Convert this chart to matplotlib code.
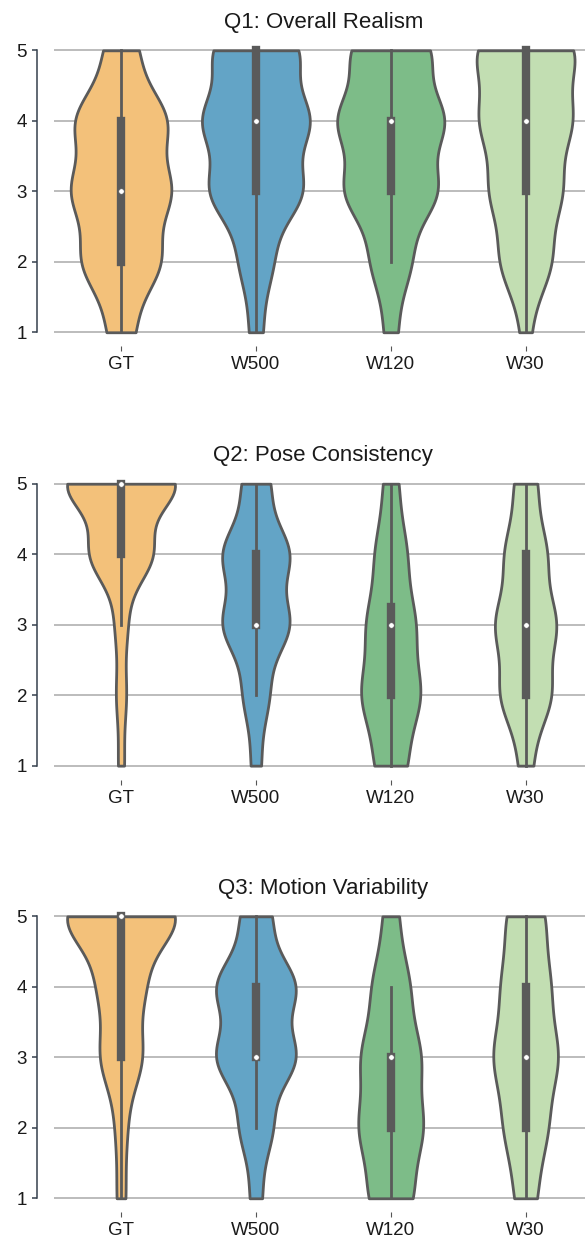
import numpy as np
import matplotlib
matplotlib.use("Agg")
import matplotlib.pyplot as plt
from matplotlib import mlab

plt.rcParams["font.family"] = ["Liberation Sans", "DejaVu Sans"]

categories = ["GT", "W500", "W120", "W30"]
scores = [1, 2, 3, 4, 5]
titles = ["Q1: Overall Realism", "Q2: Pose Consistency", "Q3: Motion Variability"]

# Number of responses for each score (1..5), one row per condition
q1_counts = [
    [8, 24, 30, 28, 10],    # GT
    [4, 10, 28, 32, 26],    # W500
    [4, 12, 28, 32, 24],    # W120
    [3, 16, 22, 28, 31],    # W30
]
q2_counts = [
    [3, 5, 6, 31, 55],
    [5, 13, 34, 34, 14],
    [17, 32, 26, 17, 8],
    [7, 27, 32, 22, 12],
]
q3_counts = [
    [4, 5, 19, 20, 52],
    [5, 14, 34, 34, 13],
    [20, 29, 27, 17, 7],
    [10, 20, 30, 22, 18],
]

palette = ["#F3C17A", "#63A4C6", "#7DBC88", "#C2DEB2"]
line_gray = "#5a5a5a"
spine_color = "#36404d"
lw = 2.0
max_width = 0.8

fig = plt.figure(figsize=(5.85, 12.45), dpi=100)
bottoms = [0.7218, 0.3737, 0.0262]

for counts, title, bottom in zip([q1_counts, q2_counts, q3_counts], titles, bottoms):
    ax = fig.add_axes([0.0916, bottom, 0.9221, 0.2491])
    data = [np.repeat(scores, c).astype(float) for c in counts]

    # area scaling: every violin shares the density scale of the axes
    peaks = []
    for d in data:
        kde = mlab.GaussianKDE(d, "scott")
        grid = np.linspace(d.min(), d.max(), 100)
        peaks.append(kde.evaluate(grid).max())
    widths = [max_width * p / max(peaks) for p in peaks]

    parts = ax.violinplot(data, positions=range(len(data)), widths=widths,
                          showextrema=False, points=100, bw_method="scott")
    for body, color in zip(parts["bodies"], palette):
        body.set_facecolor(color)
        body.set_edgecolor(line_gray)
        body.set_linewidth(lw)
        body.set_alpha(1)
        body.set_zorder(1)

    # inner box: whiskers, interquartile box and median dot
    for i, d in enumerate(data):
        q25, q50, q75 = np.percentile(d, [25, 50, 75])
        lim = 1.5 * (q75 - q25)
        lo = d[d >= q25 - lim].min()
        hi = d[d <= q75 + lim].max()
        ax.plot([i, i], [lo, hi], color=line_gray, linewidth=lw, zorder=2)
        ax.plot([i, i], [q25, q75], color=line_gray, linewidth=lw * 3, zorder=2)
        ax.scatter([i], [q50], s=(lw * 2) ** 2, color="white",
                   edgecolor=line_gray, linewidth=0.5, zorder=3)

    ax.set_xlim(-0.5, len(categories) - 0.5)
    ax.set_ylim(0.8, 5.2)
    ax.set_xticks(range(len(categories)), categories)
    ax.set_yticks(scores)
    ax.yaxis.grid(True, color="#b0b0b0", linewidth=1.2)
    ax.xaxis.grid(False)
    ax.set_axisbelow(True)

    for side in ["top", "right", "bottom"]:
        ax.spines[side].set_visible(False)
    ax.spines["left"].set_position(("outward", 12))
    ax.spines["left"].set_bounds(1, 5)
    ax.spines["left"].set_color(spine_color)
    ax.spines["left"].set_linewidth(1.1)

    ax.tick_params(axis="x", length=3.6, width=0.8, color="#555555",
                   labelsize=13.5, labelcolor="#1a1a1a")
    ax.tick_params(axis="y", length=3.6, width=1.1, color=spine_color,
                   labelsize=13.5, labelcolor="#1a1a1a")
    ax.set_title(title, fontsize=16, pad=6, color="#1a1a1a")

fig.savefig("out.png", dpi=100)
